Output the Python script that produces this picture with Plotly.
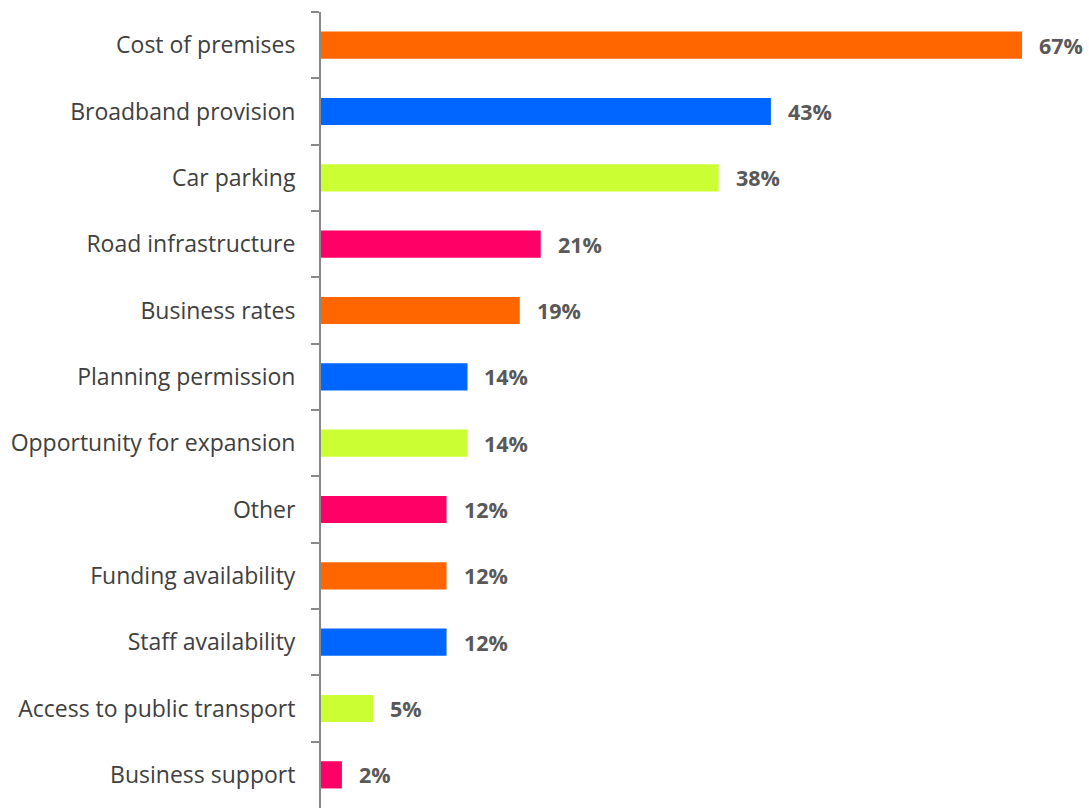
import plotly.graph_objects as go

categories = [
    "Cost of premises",
    "Broadband provision",
    "Car parking",
    "Road infrastructure",
    "Business rates",
    "Planning permission",
    "Opportunity for expansion",
    "Other",
    "Funding availability",
    "Staff availability",
    "Access to public transport",
    "Business support",
]
values = [67, 43, 38, 21, 19, 14, 14, 12, 12, 12, 5, 2]
palette = ["#FF6600", "#0066FF", "#CCFF33", "#FF0066"]
bar_colors = [palette[i % 4] for i in range(len(categories))]

fig = go.Figure()
fig.add_trace(go.Bar(
    x=values,
    y=categories,
    orientation="h",
    marker=dict(color=bar_colors, line=dict(width=0)),
    hoverinfo="skip",
))

# value labels to the right of each bar
for cat, v in zip(categories, values):
    fig.add_annotation(
        x=v, y=cat, text=f"{v}%",
        xanchor="left", yanchor="middle", xshift=15, yshift=0,
        showarrow=False,
        font=dict(family="Open Sans", size=21.5, color="#595959", weight="bold"),
    )

fig.update_layout(
    width=1089, height=808,
    margin=dict(l=321, r=0, t=12, b=0),
    plot_bgcolor="white", paper_bgcolor="white",
    bargap=0.59,
    showlegend=False,
    xaxis=dict(range=[0, 73.4], visible=False, fixedrange=True),
    yaxis=dict(
        autorange="reversed",
        showline=True, linecolor="#898989", linewidth=2,
        ticks="outside", tickson="boundaries", ticklen=8,
        tickcolor="#898989", tickwidth=2,
        ticklabelstandoff=19,
        tickfont=dict(family="Open Sans", size=23, color="#404040"),
        showgrid=False, zeroline=False,
    ),
)

fig.write_html("out.html")
